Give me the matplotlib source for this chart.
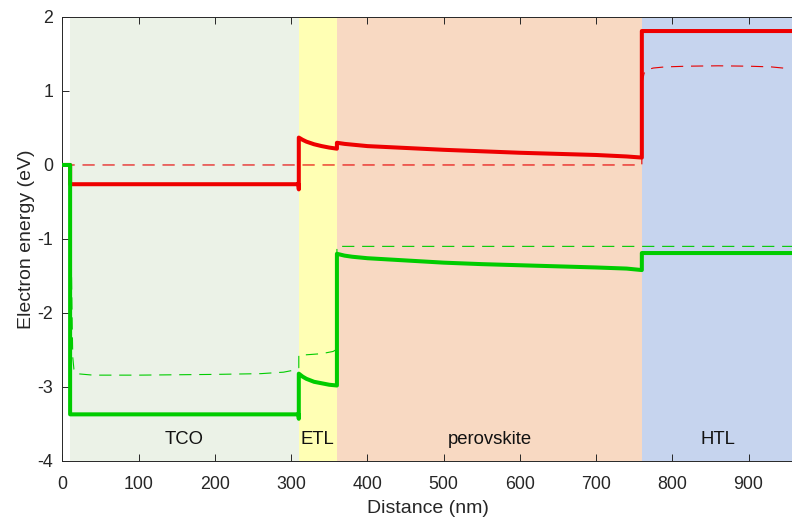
import numpy as np
import matplotlib.pyplot as plt

plt.rcParams['font.family'] = ['Liberation Sans', 'DejaVu Sans']
plt.rcParams['axes.unicode_minus'] = False

# layer stack: name, start, end (nm), fill colour
layer_names = ["TCO", "ETL", "perovskite", "HTL"]
layer_start = [10, 310, 360, 760]
layer_end = [310, 360, 760, 960]
layer_colors = ["#ebf2e7", "#ffffb4", "#f8d9c2", "#c6d4ee"]

# conduction band edge Ec (nm, eV)
ec_x = [0, 10, 10, 309.5, 310, 310, 315, 320, 330, 340, 350, 360,
        360, 370, 380, 400, 450, 500, 550, 600, 650, 700, 740, 760,
        760, 960]
ec_y = [0, 0, -0.26, -0.26, -0.33, 0.37, 0.34, 0.315, 0.28, 0.255, 0.235, 0.22,
        0.30, 0.285, 0.275, 0.255, 0.23, 0.205, 0.185, 0.165, 0.15, 0.135, 0.115, 0.10,
        1.81, 1.81]

# valence band edge Ev (nm, eV)
ev_x = [0, 10, 10, 309.5, 310, 310, 315, 320, 330, 340, 350, 360,
        360, 370, 380, 400, 450, 500, 550, 600, 650, 700, 740, 760,
        760, 960]
ev_y = [0, 0, -3.37, -3.37, -3.43, -2.82, -2.86, -2.89, -2.93, -2.95, -2.97, -2.98,
        -1.20, -1.225, -1.24, -1.26, -1.29, -1.32, -1.34, -1.355, -1.37, -1.385, -1.40, -1.42,
        -1.19, -1.19]

# electron quasi-Fermi level Efn
efn_x = [0, 760, 760, 763, 768, 775, 790, 820, 860, 900, 930, 945, 955]
efn_y = [0, 0, 1.10, 1.24, 1.29, 1.31, 1.325, 1.335, 1.34, 1.335, 1.325, 1.31, 1.29]

# hole quasi-Fermi level Efp
efp_x = [0, 10, 11, 12, 12.8, 13.5, 15, 18, 40, 100, 200, 260, 290, 300, 306, 310,
         310, 320, 340, 355, 360, 360, 960]
efp_y = [0, 0, -0.8, -1.6, -2.2, -2.6, -2.76, -2.82, -2.84, -2.84, -2.83, -2.82, -2.80, -2.78, -2.76, -2.74,
         -2.57, -2.565, -2.55, -2.52, -2.49, -1.10, -1.10]

fig = plt.figure(figsize=(7.92, 5.19), dpi=100)
ax = fig.add_axes([0.0789, 0.1118, 0.924, 0.8555])

for name, x0, x1, c in zip(layer_names, layer_start, layer_end, layer_colors):
    ax.axvspan(x0, x1, color=c, lw=0, zorder=0)
    ax.text((x0 + x1) / 2, -3.71, name, ha="center", va="center",
            fontsize=13.3, color="#111111", zorder=5)

dash = (11, 7)
ax.plot(efn_x, efn_y, color="#e60000", lw=0.8, dashes=dash, zorder=2)
ax.plot(efp_x, efp_y, color="#00cc00", lw=0.8, dashes=dash, zorder=2)
ax.plot(ec_x, ec_y, color="#ee0000", lw=2.9, zorder=3)
ax.plot(ev_x, ev_y, color="#00cc00", lw=2.9, zorder=4)

ax.set_xlim(0, 960)
ax.set_ylim(-4, 2)
ax.set_xticks(np.arange(0, 901, 100))
ax.set_yticks(np.arange(-4, 3, 1))
ax.tick_params(direction="in", top=True, right=False, labelsize=12.8,
               colors="#262626", length=5, width=0.7)
ax.tick_params(axis="x", pad=10.5)
ax.tick_params(axis="y", pad=6.5)
for side in ["left", "bottom", "top"]:
    ax.spines[side].set_color("#262626")
    ax.spines[side].set_linewidth(0.7)
ax.spines["right"].set_visible(False)

ax.set_xlabel("Distance (nm)", fontsize=14, color="#262626", labelpad=5)
ax.set_ylabel("Electron energy (eV)", fontsize=14, color="#262626", labelpad=2)

fig.savefig("out.png", dpi=100)
